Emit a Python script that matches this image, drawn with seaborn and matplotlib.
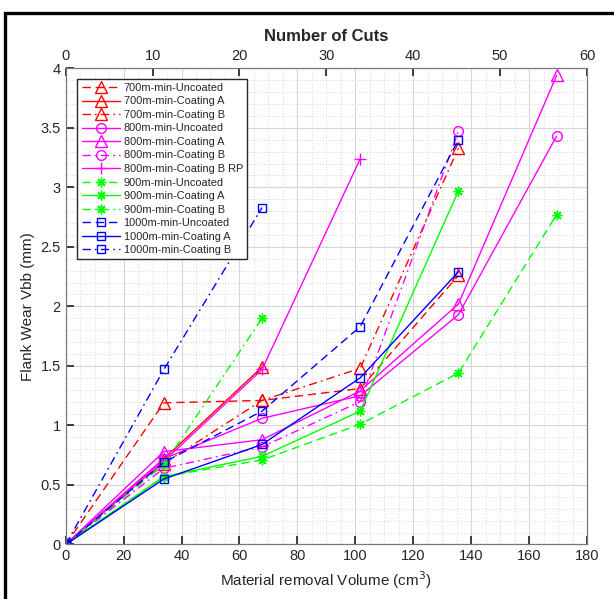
import numpy as np
import pandas as pd
import seaborn as sns
import matplotlib.pyplot as plt
from matplotlib.patches import Rectangle
from matplotlib.ticker import MultipleLocator, FormatStrFormatter

# 数据: 材料去除体积 (cm^3) 与后刀面磨损 (mm)
volume = [0, 33.9, 67.8, 101.7, 135.6, 169.5]

names = [
    "700m-min-Uncoated", "700m-min-Coating A", "700m-min-Coating B",
    "800m-min-Uncoated", "800m-min-Coating A", "800m-min-Coating B",
    "800m-min-Coating B RP",
    "900m-min-Uncoated", "900m-min-Coating A", "900m-min-Coating B",
    "1000m-min-Uncoated", "1000m-min-Coating A", "1000m-min-Coating B",
]

wear_700_uncoated = [0, 1.19, 1.21, 1.31, 2.26]
wear_700_coat_a = [0, 0.72, 1.49]
wear_700_coat_b = [0, 0.68, 1.21, 1.48, 3.33]
wear_800_uncoated = [0, 0.72, 1.06, 1.25, 1.93, 3.43]
wear_800_coat_a = [0, 0.78, 0.88, 1.29, 2.02, 3.94]
wear_800_coat_b = [0, 0.64, 0.82, 1.20, 3.47]
wear_800_coat_b_rp = [0, 0.70, 1.47, 3.24]
wear_900_uncoated = [0, 0.57, 0.71, 1.01, 1.44, 2.77]
wear_900_coat_a = [0, 0.57, 0.74, 1.12, 2.97]
wear_900_coat_b = [0, 0.67, 1.90]
wear_1000_uncoated = [0, 0.69, 1.12, 1.83, 3.40]
wear_1000_coat_a = [0, 0.55, 0.84, 1.40, 2.29]
wear_1000_coat_b = [0, 1.47, 2.83]

wear = [
    wear_700_uncoated, wear_700_coat_a, wear_700_coat_b,
    wear_800_uncoated, wear_800_coat_a, wear_800_coat_b, wear_800_coat_b_rp,
    wear_900_uncoated, wear_900_coat_a, wear_900_coat_b,
    wear_1000_uncoated, wear_1000_coat_a, wear_1000_coat_b,
]

# 线型 (类似 MATLAB 的 '--' 和 '-.')
dash = (0, (6, 3.5))
dashdot = (0, (6, 3, 1.2, 3))
solid = "-"

# 样式 (颜色, 线型, 标记, 标记大小)
asterisk = (8, 2, 0)
styles = [
    ("#ff0000", dash, "^", 8), ("#ff0000", solid, "^", 8), ("#ff0000", dashdot, "^", 8),
    ("#ff00ff", solid, "o", 7), ("#ff00ff", solid, "^", 8), ("#ff00ff", dashdot, "o", 7),
    ("#ff00ff", solid, "+", 8),
    ("#00ff00", dash, asterisk, 7), ("#00ff00", solid, asterisk, 7), ("#00ff00", dashdot, asterisk, 7),
    ("#0000ff", dash, "s", 6), ("#0000ff", solid, "s", 6), ("#0000ff", dashdot, "s", 6),
]

sns.set_theme(style="ticks")
plt.rcParams['font.family'] = ['Liberation Sans', 'DejaVu Sans']
plt.rcParams['axes.edgecolor'] = '#262626'
plt.rcParams['xtick.color'] = '#262626'
plt.rcParams['ytick.color'] = '#262626'

fig = plt.figure(figsize=(6.14, 5.99), dpi=100)
ax = fig.add_axes([0.107, 0.091, 0.849, 0.795])

for name, y, (c, ls, mk, ms) in zip(names, wear, styles):
    df = pd.DataFrame({"x": volume[:len(y)], "y": y})
    sns.lineplot(data=df, x="x", y="y", ax=ax, color=c, linestyle=ls, linewidth=1.0,
                 marker=mk, markersize=ms, markerfacecolor="none",
                 markeredgecolor=c, markeredgewidth=1.0, label=name)

ax.set_xlim(0, 180)
ax.set_ylim(0, 4)
ax.xaxis.set_major_locator(MultipleLocator(20))
ax.xaxis.set_minor_locator(MultipleLocator(5))
ax.yaxis.set_major_locator(MultipleLocator(0.5))
ax.yaxis.set_minor_locator(MultipleLocator(0.1))
ax.yaxis.set_major_formatter(FormatStrFormatter('%g'))
ax.grid(True, which='major', color='#d6d6d6', linewidth=0.8)
ax.grid(True, which='minor', color='#dcdcdc', linestyle=':', linewidth=0.8)
ax.set_axisbelow(True)
ax.tick_params(which='both', direction='in', labelsize=10.5, top=False, right=False)
ax.tick_params(which='minor', length=0)
ax.set_xlabel("Material removal Volume (cm$^3$)", fontsize=11, color='#262626')
ax.set_ylabel("Flank Wear Vbb (mm)", fontsize=11, color='#262626')
for s in ax.spines.values():
    s.set_linewidth(0.8)
    s.set_color('#777777')

# 上方的切削次数坐标轴
ax2 = ax.twiny()
ax2.set_xlim(0, 60)
ax2.xaxis.set_major_locator(MultipleLocator(10))
ax2.tick_params(direction='in', labelsize=10.5)
ax2.set_xlabel("Number of Cuts", fontsize=12, fontweight='bold', labelpad=6)
for s in ax2.spines.values():
    s.set_linewidth(0.8)
    s.set_color('#777777')

ax.legend(loc='upper left', bbox_to_anchor=(0.012, 0.99), fontsize=7.9,
          handlelength=3.5, labelspacing=0.32, borderpad=0.4, handletextpad=0.3,
          frameon=True, fancybox=False, edgecolor='#262626', framealpha=1)

# 外框 (只露出上边和左边)
fig.add_artist(Rectangle((5 / 614, -0.2), 1.5, 1.2 - 13 / 599, transform=fig.transFigure,
                         fill=False, edgecolor='black', linewidth=2.4))

plt.savefig("out.png", dpi=100)
